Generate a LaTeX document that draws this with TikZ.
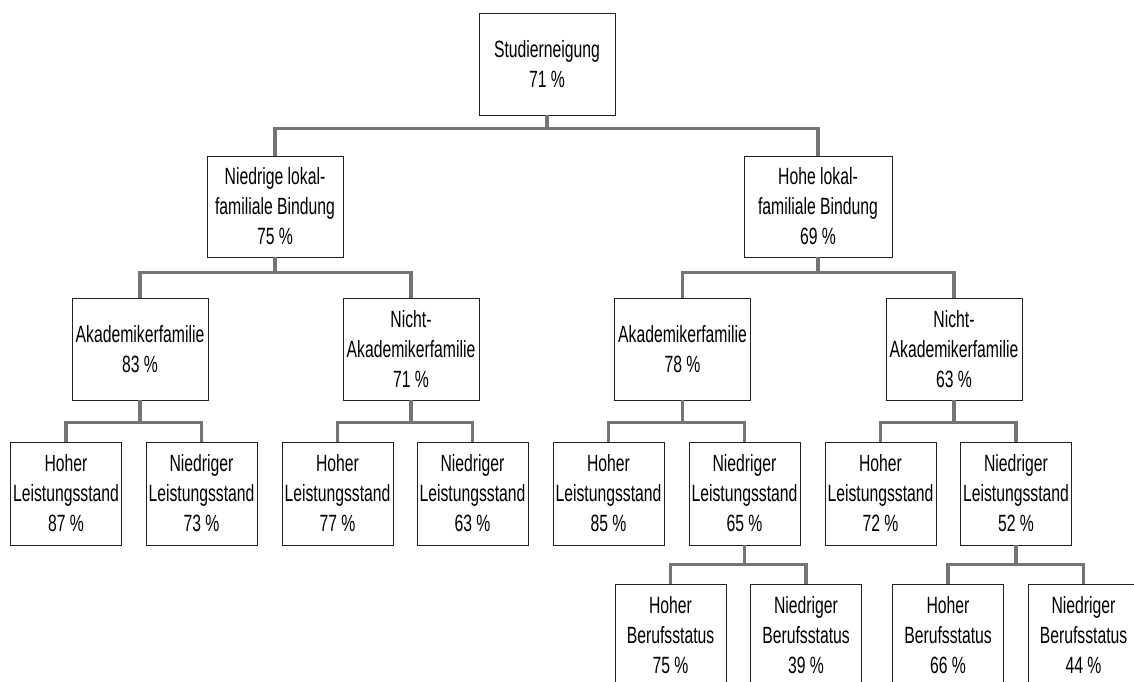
\documentclass[tikz,border=0pt]{standalone}
\usepackage{fontspec}
\setmainfont{Liberation Sans}[FakeStretch=0.67]
\definecolor{connc}{HTML}{747474}
\definecolor{boxc}{HTML}{202020}
\tikzset{
  box/.style={draw=boxc, line width=0.9pt, fill=white, align=center, inner sep=0pt,
    font=\fontsize{23.5}{30}\selectfont, text=black},
  wbox/.style={box, minimum width=136pt, minimum height=102pt},
  nbox/.style={box, minimum width=111pt, minimum height=103pt},
  conn/.style={draw=connc, line width=3.3pt}
}
\begin{document}
\begin{tikzpicture}[x=1pt,y=-1pt]
\useasboundingbox (0,0) rectangle (1134,682);
\clip (0,0) rectangle (1134,682);
\fill[white] (0,0) rectangle (1134,682);
% level 1
\node[wbox] (top) at (547,64) {Studierneigung\\71 \%};
% level 2
\node[wbox, minimum height=101pt] (nl) at (275,206.5) {Niedrige lokal-\\familiale Bindung\\75 \%};
\node[wbox, minimum width=148pt, minimum height=101pt] (hl) at (818,206.5) {Hohe lokal-\\familiale Bindung\\69 \%};
% level 3
\node[wbox] (akl) at (140,349) {Akademikerfamilie\\83 \%};
\node[wbox] (nakl) at (411,349) {Nicht-\\Akademikerfamilie\\71 \%};
\node[wbox] (akr) at (682.5,349) {Akademikerfamilie\\78 \%};
\node[wbox] (nakr) at (954,349) {Nicht-\\Akademikerfamilie\\63 \%};
% level 4
\node[nbox] (l1) at (66,493.5) {Hoher\\Leistungsstand\\87 \%};
\node[nbox] (l2) at (201.5,493.5) {Niedriger\\Leistungsstand\\73 \%};
\node[nbox] (l3) at (337.5,493.5) {Hoher\\Leistungsstand\\77 \%};
\node[nbox] (l4) at (472.5,493.5) {Niedriger\\Leistungsstand\\63 \%};
\node[nbox] (l5) at (608.5,493.5) {Hoher\\Leistungsstand\\85 \%};
\node[nbox] (l6) at (744.5,493.5) {Niedriger\\Leistungsstand\\65 \%};
\node[nbox] (l7) at (880.5,493.5) {Hoher\\Leistungsstand\\72 \%};
\node[nbox] (l8) at (1016,493.5) {Niedriger\\Leistungsstand\\52 \%};
% level 5
\node[nbox] (b1) at (670.5,635.5) {Hoher\\Berufsstatus\\75 \%};
\node[nbox] (b2) at (806,635.5) {Niedriger\\Berufsstatus\\39 \%};
\node[nbox] (b3) at (948,635.5) {Hoher\\Berufsstatus\\66 \%};
\node[nbox] (b4) at (1083.5,635.5) {Niedriger\\Berufsstatus\\44 \%};
% connectors
\foreach \p/\c/\d in {top/nl/13, top/hl/13,
  nl/akl/15, nl/nakl/15, hl/akr/15, hl/nakr/15,
  akl/l1/22, akl/l2/22, nakl/l3/22, nakl/l4/22,
  akr/l5/22, akr/l6/22, nakr/l7/22, nakr/l8/22,
  l6/b1/19, l6/b2/19, l8/b3/19, l8/b4/19}
  \draw[conn] (\p.south) -- ++(0,\d) -| (\c.north);
\end{tikzpicture}
\end{document}
